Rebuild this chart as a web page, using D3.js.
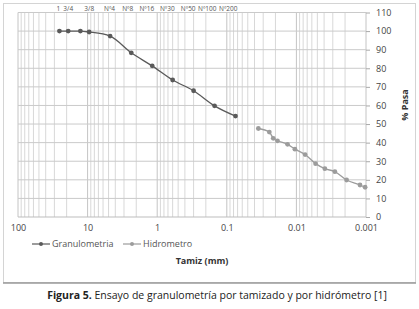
<!DOCTYPE html>
<html>
<head>
<meta charset="utf-8">
<script src="https://cdn.jsdelivr.net/npm/d3@7"></script>
<style>
  body { margin: 0; background: #fff; }
  text { font-family: "Open Sans", "DejaVu Sans", sans-serif; }
</style>
</head>
<body>
<svg id="chart" width="419" height="309"></svg>
<script>
// tamiz (mm) y % pasa
var granSize = [25.4, 19, 12.7, 9.5, 4.75, 2.36, 1.18, 0.6, 0.3, 0.15, 0.075];
var granPasa = [100, 100, 100, 99.5, 97.3, 88.3, 81.3, 73.7, 67.9, 59.8, 54.3];

var hidSize = [0.0352, 0.0245, 0.0215, 0.0187, 0.0134, 0.0105, 0.0075, 0.0053, 0.0039, 0.0028, 0.0019, 0.00122, 0.00103];
var hidPasa = [47.6, 45.7, 42.3, 41, 39.1, 36.5, 33.6, 28.7, 26, 24.4, 19.9, 17.2, 16];

var sieveLabels = ['1 3/4', '3/8', 'Nº4', 'Nº8', 'Nº16', 'Nº30', 'Nº50', 'Nº100', 'Nº200'];
var sieveSizes = [19, 9.5, 4.75, 2.36, 1.18, 0.6, 0.3, 0.15, 0.075];

var xTicks = [100, 10, 1, 0.1, 0.01, 0.001];
var yTicks = d3.range(0, 111, 10);

var svg = d3.select('#chart');

var x = d3.scaleLog().domain([100, 0.001]).range([18, 366]);
var y = d3.scaleLinear().domain([0, 110]).range([217, 12.5]);

// marco exterior
svg.append('rect')
    .attr('x', 3.5).attr('y', 3.5)
    .attr('width', 412).attr('height', 279)
    .attr('fill', 'none')
    .attr('stroke', '#d4d4d4');
svg.append('line')
    .attr('x1', 3).attr('x2', 416)
    .attr('y1', 283).attr('y2', 283)
    .attr('stroke', '#9a9a9a')
    .attr('stroke-width', 1.5);

var g = svg.append('g');

// rejilla vertical (1..9 por decada)
var minor = [];
d3.range(-3, 2).forEach(function (e) {
    d3.range(1, 10).forEach(function (m) { minor.push(m * Math.pow(10, e)); });
});
minor.push(100);

g.selectAll('line.vgrid')
    .data(minor)
    .enter().append('line')
        .attr('class', 'vgrid')
        .attr('x1', d => x(d)).attr('x2', d => x(d))
        .attr('y1', y(110)).attr('y2', y(0))
        .attr('stroke', d => xTicks.indexOf(+d.toPrecision(1)) >= 0 ? '#c4c4c4' : '#d8d8d8')
        .attr('stroke-width', 1);

// rejilla horizontal
g.selectAll('line.hgrid')
    .data(yTicks)
    .enter().append('line')
        .attr('class', 'hgrid')
        .attr('x1', x(100)).attr('x2', x(0.001))
        .attr('y1', d => y(d)).attr('y2', d => y(d))
        .attr('stroke', d => d === 0 ? '#bdbdbd' : '#cacaca');

// eje y a la derecha
var yAxis = d3.axisRight(y).tickValues(yTicks).tickSize(4).tickPadding(6);
var ya = svg.append('g')
    .attr('transform', 'translate(' + x(0.001) + ',0)')
    .call(yAxis);
ya.select('.domain').remove();
ya.selectAll('line').attr('stroke', '#aaa');
ya.selectAll('text')
    .attr('fill', '#444')
    .style('font-size', '9px');

// eje x
var xAxis = d3.axisBottom(x).tickValues(xTicks).tickSize(0).tickPadding(8)
    .tickFormat(d3.format('~g'));
var xa = svg.append('g')
    .attr('transform', 'translate(0,' + y(0) + ')')
    .call(xAxis);
xa.select('.domain').remove();
xa.selectAll('text')
    .attr('fill', '#444')
    .style('font-size', '9px');

// etiquetas de tamices arriba
svg.selectAll('text.sieve')
    .data(sieveLabels)
    .enter().append('text')
        .attr('class', 'sieve')
        .attr('x', (d, i) => x(sieveSizes[i]) + (i < 3 ? 5 : 2))
        .attr('y', 11)
        .attr('text-anchor', 'end')
        .attr('fill', '#555')
        .style('font-size', '6.5px')
        .style('word-spacing', '1.5px')
        .text(d => d);

// series
var line = d3.line()
    .x(d => x(d[0]))
    .y(d => y(d[1]))
    .curve(d3.curveMonotoneX);

var series = [
    { name: 'Granulometria', size: granSize, pasa: granPasa, color: '#5a5a5a', width: 1.3 },
    { name: 'Hidrometro', size: hidSize, pasa: hidPasa, color: '#9c9c9c', width: 1.3 },
];

series.forEach(function (s) {
    var pts = s.size.map((d, i) => [d, s.pasa[i]]);
    svg.append('path')
        .datum(pts)
        .attr('d', line)
        .attr('fill', 'none')
        .attr('stroke', s.color)
        .attr('stroke-width', s.width);
    svg.selectAll(null)
        .data(pts)
        .enter().append('circle')
            .attr('cx', d => x(d[0]))
            .attr('cy', d => y(d[1]))
            .attr('r', 2.4)
            .attr('fill', s.color);
});

// titulo eje y
svg.append('text')
    .attr('transform', 'translate(408,105) rotate(-90)')
    .attr('text-anchor', 'middle')
    .attr('fill', '#333')
    .style('font-size', '9px')
    .style('font-weight', 'bold')
    .text('% Pasa');

// leyenda
var legX = [32, 123];
var legend = svg.selectAll('g.leg')
    .data(series)
    .enter().append('g')
        .attr('class', 'leg')
        .attr('transform', (d, i) => 'translate(' + legX[i] + ',244)');
legend.append('line')
    .attr('x1', 0).attr('x2', 18)
    .attr('stroke', d => d.color)
    .attr('stroke-width', 1.2);
legend.append('circle')
    .attr('cx', 9).attr('r', 2)
    .attr('fill', d => d.color);
legend.append('text')
    .attr('x', 20).attr('y', 3)
    .attr('fill', '#555')
    .style('font-size', '9px')
    .text(d => d.name);

// titulo eje x
svg.append('text')
    .attr('x', 202).attr('y', 264)
    .attr('text-anchor', 'middle')
    .attr('fill', '#333')
    .style('font-size', '9px')
    .style('font-weight', 'bold')
    .text('Tamiz (mm)');

// pie de figura
var cap = svg.append('text')
    .attr('x', 217).attr('y', 299)
    .attr('text-anchor', 'middle')
    .attr('fill', '#222')
    .style('font-size', '10.5px');
cap.append('tspan').style('font-weight', 'bold').text('Figura 5.');
cap.append('tspan').text(' Ensayo de granulometría por tamizado y por hidrómetro [1]');
</script>
</body>
</html>
